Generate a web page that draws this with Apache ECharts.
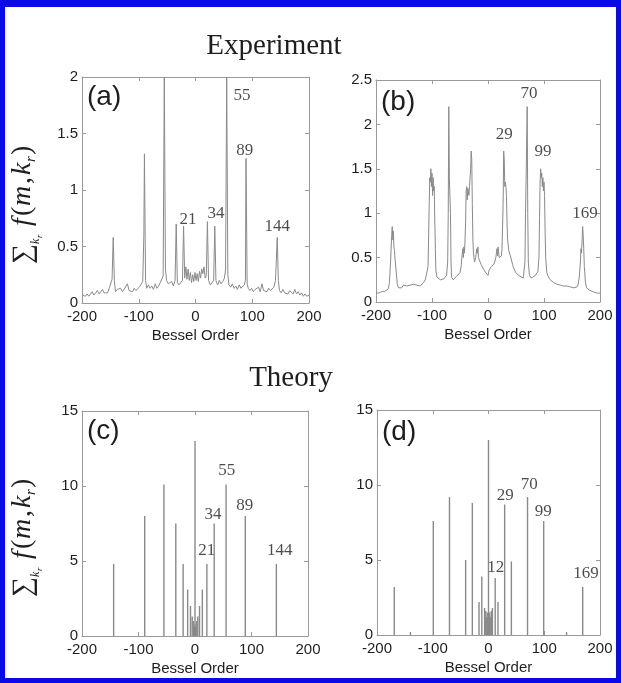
<!DOCTYPE html>
<html>
<head>
<meta charset="utf-8">
<script src="https://cdn.jsdelivr.net/npm/echarts@6/dist/echarts.min.js"></script>
<style>
  html, body { margin: 0; padding: 0; background: #ffffff; }
  #chart { width: 621px; height: 683px; }
</style>
</head>
<body>
<div id="chart"></div>
<script>
// Measured spectra: summed f(m, k_r) versus Bessel order m
const expA = [
  [-200,0.07],[-197,0.06],[-194,0.06],[-191,0.08],[-188,0.06],[-185,0.07],[-182,0.10],[-179,0.07],
  [-176,0.09],[-173,0.11],[-170,0.08],[-167,0.09],[-164,0.12],[-161,0.09],[-158,0.10],[-155,0.09],
  [-152,0.13],[-149,0.12],[-147,0.21],[-145,0.58],[-143,0.20],[-141,0.10],[-138,0.12],[-135,0.11],
  [-132,0.13],[-129,0.10],[-126,0.12],[-123,0.11],[-120,0.17],[-117,0.11],[-114,0.12],[-111,0.10],
  [-108,0.13],[-105,0.11],[-102,0.12],[-99,0.14],[-96,0.13],[-93,0.19],[-91,0.60],[-90,1.32],
  [-88,0.20],[-86,0.13],[-83,0.16],[-80,0.13],[-77,0.15],[-74,0.12],[-71,0.17],[-68,0.13],
  [-65,0.15],[-62,0.18],[-59,0.17],[-57,0.24],[-55,2.00],[-53,0.30],[-51,0.20],[-48,0.17],
  [-45,0.16],[-42,0.19],[-39,0.15],[-36,0.20],[-34,0.70],[-32,0.18],[-29,0.16],[-26,0.15],
  [-23,0.20],[-21,0.68],[-19,0.22],[-17,0.32],[-15,0.21],[-13,0.30],[-11,0.20],[-9,0.27],
  [-7,0.18],[-5,0.25],[-3,0.19],[-1,0.27],[1,0.20],[3,0.26],[5,0.19],[7,0.28],
  [9,0.22],[11,0.30],[13,0.26],[15,0.32],[17,0.22],[19,0.24],[21,0.72],[23,0.20],
  [26,0.16],[29,0.15],[32,0.20],[34,0.68],[36,0.20],[39,0.16],[42,0.20],[45,0.17],
  [48,0.19],[51,0.22],[53,0.30],[55,2.00],[57,0.25],[59,0.16],[62,0.14],[65,0.17],
  [68,0.13],[71,0.15],[74,0.12],[77,0.16],[80,0.13],[83,0.12],[86,0.16],[88,0.20],
  [89,1.28],[91,0.17],[93,0.13],[96,0.11],[99,0.13],[102,0.10],[105,0.12],[108,0.11],
  [111,0.14],[114,0.10],[117,0.17],[120,0.11],[123,0.12],[126,0.10],[129,0.13],[132,0.11],
  [135,0.12],[138,0.14],[141,0.20],[144,0.58],[146,0.20],[148,0.11],[151,0.09],[154,0.12],
  [157,0.09],[160,0.10],[163,0.08],[166,0.11],[169,0.10],[172,0.08],[175,0.12],[178,0.08],
  [181,0.10],[184,0.07],[187,0.09],[190,0.06],[193,0.08],[196,0.06],[200,0.07]
];

const expB = [
  [-200,0.10],[-196,0.10],[-192,0.11],[-188,0.12],[-184,0.12],[-181,0.14],[-178,0.15],[-176,0.22],
  [-174,0.45],[-172,0.75],[-171,0.85],[-170,0.70],[-169,0.80],[-168,0.62],[-167,0.58],[-166,0.48],
  [-165,0.50],[-164,0.35],[-162,0.20],[-160,0.16],[-157,0.18],[-154,0.16],[-151,0.19],[-148,0.17],
  [-145,0.18],[-142,0.16],[-139,0.19],[-136,0.18],[-133,0.20],[-130,0.21],[-127,0.19],[-124,0.20],
  [-121,0.18],[-118,0.20],[-115,0.22],[-112,0.25],[-109,0.27],[-107,0.40],[-105,1.10],[-104,1.40],
  [-103,1.35],[-102,1.50],[-101,1.30],[-100,1.45],[-99,1.20],[-98,1.40],[-97,1.25],[-96,1.30],
  [-95,0.90],[-94,0.60],[-93,0.35],[-91,0.28],[-88,0.26],[-85,0.25],[-82,0.27],[-79,0.26],
  [-76,0.28],[-74,0.30],[-72,0.45],[-71,1.00],[-70,2.20],[-69,1.40],[-68,1.38],[-67,1.00],
  [-66,0.45],[-65,0.28],[-62,0.25],[-59,0.27],[-56,0.29],[-53,0.30],[-50,0.33],[-48,0.40],
  [-46,0.55],[-45,0.60],[-44,0.50],[-43,0.62],[-42,0.55],[-41,0.70],[-40,0.90],[-39,1.25],
  [-38,1.30],[-37,1.15],[-36,1.28],[-35,1.30],[-34,1.20],[-33,1.30],[-31,1.50],[-30,1.70],
  [-29,1.60],[-28,1.10],[-27,0.70],[-26,0.55],[-25,0.50],[-24,0.45],[-22,0.50],[-20,0.60],
  [-19,0.55],[-18,0.62],[-17,0.50],[-16,0.48],[-14,0.45],[-12,0.42],[-10,0.40],[-8,0.37],
  [-6,0.38],[-4,0.33],[-2,0.35],[0,0.30],[2,0.36],[4,0.34],[6,0.40],[8,0.38],
  [10,0.42],[12,0.45],[14,0.50],[16,0.60],[17,0.52],[18,0.62],[20,0.50],[22,0.48],
  [24,0.52],[25,0.60],[27,1.10],[28,1.70],[29,1.60],[30,1.30],[31,1.35],[32,1.30],
  [33,1.20],[34,0.90],[35,0.70],[36,0.65],[37,0.58],[38,0.60],[40,0.52],[42,0.50],
  [44,0.42],[46,0.38],[48,0.35],[51,0.32],[54,0.30],[57,0.29],[60,0.28],[63,0.27],
  [65,0.28],[66,0.45],[67,1.00],[68,1.38],[69,1.40],[70,2.20],[71,1.00],[72,0.45],
  [74,0.30],[77,0.27],[80,0.28],[83,0.29],[86,0.31],[89,0.34],[91,0.50],[92,0.95],
  [93,1.35],[94,1.50],[95,1.40],[96,1.45],[97,1.30],[98,1.40],[99,1.25],[100,1.35],
  [101,1.20],[102,0.80],[103,0.50],[105,0.33],[108,0.28],[111,0.25],[114,0.23],[117,0.22],
  [120,0.21],[123,0.20],[126,0.22],[129,0.19],[132,0.20],[135,0.18],[138,0.20],[141,0.18],
  [144,0.19],[147,0.17],[150,0.18],[153,0.16],[156,0.18],[159,0.17],[161,0.20],[163,0.28],
  [165,0.45],[166,0.60],[167,0.55],[168,0.70],[169,0.85],[170,0.75],[171,0.60],[172,0.40],
  [174,0.22],[176,0.16],[179,0.15],[182,0.13],[186,0.12],[190,0.11],[195,0.10],[200,0.10]
];

// Computed stem spectra
const theoryC_orders = [-144,-89,-55,-34,-21,-13,-8,-5,-3,-2,-1,0,1,2,3,5,8,13,21,34,55,89,144];
const theoryC_values = [4.8,8.0,10.1,7.5,4.8,3.1,2.0,1.3,1.0,0.8,0.6,13.0,0.6,0.8,1.0,1.3,2.0,3.1,4.8,7.5,10.1,8.0,4.8];

const theoryD_orders = [-169,-140,-99,-70,-41,-29,-17,-12,-7,-5,-3,-2,-1,0,1,2,3,5,7,12,17,29,41,70,99,140,169];
const theoryD_values = [3.2,0.2,7.6,9.2,5.0,8.8,2.2,3.9,1.8,1.6,1.2,1.5,0.8,13.0,0.8,1.5,1.2,1.6,1.8,3.8,2.2,8.7,4.9,9.2,7.6,0.2,3.2];

// Peak annotations: text, anchor order, anchor height
const notesA = [['55',82,1.84],['89',87,1.35],['21',-13,0.74],['34',36,0.79],['144',144,0.68]];
const notesB = [['70',73,2.35],['29',29,1.89],['99',98,1.69],['169',173,1.0]];
const notesC = [['55',56,11.0],['34',32,8.07],['89',88,8.67],['21',21,5.67],['144',150,5.73]];
const notesD = [['29',30,9.27],['70',73,10.0],['99',98,8.2],['12',13,4.53],['169',175,4.07]];

const xTicks = [-200, 200, 100];
const yRanges = [[0, 2, 0.5], [0, 2.5, 0.5], [0, 15, 5], [0, 15, 5]];
const panelTags = ['(a)', '(b)', '(c)', '(d)'];

const grids = [
  { left: 82,  top: 77,  width: 227, height: 226 },
  { left: 376, top: 80,  width: 224, height: 222 },
  { left: 82,  top: 411, width: 226, height: 225 },
  { left: 377, top: 410, width: 223, height: 225 }
];

const AXIS = '#9a9a9a';
const INK = '#1e1e1e';
const TRACE = '#8a8a8a';
const SANS = '"Liberation Sans", Arial, sans-serif';
const SERIF = '"Liberation Serif", "Times New Roman", serif';

const xAxes = [], yAxes = [];
grids.forEach((g, i) => {
  const base = { gridIndex: i, type: 'value', min: xTicks[0], max: xTicks[1], interval: xTicks[2],
    splitLine: { show: false },
    axisLine: { show: true, onZero: false, lineStyle: { color: AXIS, width: 1 } },
    axisTick: { show: true, inside: true, length: 4, lineStyle: { color: AXIS } } };
  xAxes.push(Object.assign({}, base, {
    position: 'bottom',
    name: 'Bessel Order', nameLocation: 'middle', nameGap: 25,
    nameTextStyle: { fontFamily: SANS, fontSize: 15, color: INK },
    axisLabel: { fontFamily: SANS, fontSize: 15, color: INK, margin: 6 }
  }));
  xAxes.push(Object.assign({}, base, { position: 'top', axisLabel: { show: false } }));
  const yr = yRanges[i];
  const ybase = { gridIndex: i, type: 'value', min: yr[0], max: yr[1], interval: yr[2],
    splitLine: { show: false },
    axisLine: { show: true, onZero: false, lineStyle: { color: AXIS, width: 1 } },
    axisTick: { show: true, inside: true, length: 4, lineStyle: { color: AXIS } } };
  yAxes.push(Object.assign({}, ybase, {
    position: 'left',
    axisLabel: { fontFamily: SANS, fontSize: 15, color: INK, margin: 4 }
  }));
  yAxes.push(Object.assign({}, ybase, { position: 'right', axisLabel: { show: false } }));
});

function noteSeries(notes, i) {
  return {
    type: 'scatter', xAxisIndex: 2 * i, yAxisIndex: 2 * i,
    symbolSize: 0, silent: true, z: 5,
    data: notes.map(n => ({ value: [n[1], n[2]], name: n[0] })),
    label: { show: true, position: 'inside', formatter: p => p.name,
      fontFamily: SERIF, fontSize: 17, color: INK }
  };
}

function stems(orders, values) {
  return orders.map((m, k) => [m, values[k]]);
}

const series = [
  { type: 'line', xAxisIndex: 0, yAxisIndex: 0, data: expA, showSymbol: false,
    lineStyle: { color: TRACE, width: 1 }, clip: true },
  { type: 'line', xAxisIndex: 2, yAxisIndex: 2, data: expB, showSymbol: false,
    lineStyle: { color: TRACE, width: 1 }, clip: true },
  { type: 'bar', xAxisIndex: 4, yAxisIndex: 4, data: stems(theoryC_orders, theoryC_values),
    barWidth: 1.4, itemStyle: { color: TRACE } },
  { type: 'bar', xAxisIndex: 6, yAxisIndex: 6, data: stems(theoryD_orders, theoryD_values),
    barWidth: 1.4, itemStyle: { color: TRACE } },
  noteSeries(notesA, 0), noteSeries(notesB, 1), noteSeries(notesC, 2), noteSeries(notesD, 3)
];

// Rotated y-axis title: sum over k_r of f(m, k_r)
function sumTitle(x, y) {
  const t = (s, lx, ly, size, italic) => ({
    type: 'text', x: lx, y: ly,
    style: { text: s, fontFamily: SERIF, fontSize: size, fontStyle: italic ? 'italic' : 'normal',
      fill: INK, textVerticalAlign: 'middle', textAlign: 'left' }
  });
  return {
    type: 'group', x: x, y: y, rotation: Math.PI / 2,
    children: [
      t('\u2211', 0, 0, 28, false),
      t('k', 20, 12, 12, true),
      t('r', 26, 16, 9, true),
      t('f', 38, -1, 28, true),
      t('(', 48, -1, 28, false),
      t('m', 58, -1, 28, true),
      t(',', 80, -1, 28, false),
      t('k', 89, -1, 28, true),
      t('r', 102, 7, 15, true),
      t(')', 109, -1, 28, false)
    ]
  };
}

const graphics = [
  { type: 'rect', shape: { x: 0, y: 0, width: 621, height: 683 }, style: { fill: '#ffffff' }, z: -10 },
  { type: 'text', x: 274, y: 46, style: { text: 'Experiment', fontFamily: SERIF, fontSize: 29,
      fill: INK, textAlign: 'center', textVerticalAlign: 'middle' } },
  { type: 'text', x: 291, y: 378, style: { text: 'Theory', fontFamily: SERIF, fontSize: 29,
      fill: INK, textAlign: 'center', textVerticalAlign: 'middle' } },
  sumTitle(24, 264),
  sumTitle(24, 597)
];
grids.forEach((g, i) => {
  graphics.push({ type: 'text', x: g.left + 5, y: g.top + (i % 2 ? 8 : 6),
    style: { text: panelTags[i], fontFamily: SANS, fontSize: 28, fill: INK,
      textAlign: 'left', textVerticalAlign: 'top' } });
});
// blue frame
[[0, 0, 621, 7], [0, 0, 5, 683], [616, 0, 5, 683], [0, 678, 621, 5]].forEach(r => {
  graphics.push({ type: 'rect', shape: { x: r[0], y: r[1], width: r[2], height: r[3] },
    style: { fill: '#0a0ae8' }, z: 100 });
});

const chart = echarts.init(document.getElementById('chart'), null, { renderer: 'canvas' });
chart.setOption({
  animation: false,
  backgroundColor: '#ffffff',
  grid: grids.map(g => Object.assign({ containLabel: false }, g)),
  xAxis: xAxes,
  yAxis: yAxes,
  series: series,
  graphic: graphics
});
</script>
</body>
</html>
